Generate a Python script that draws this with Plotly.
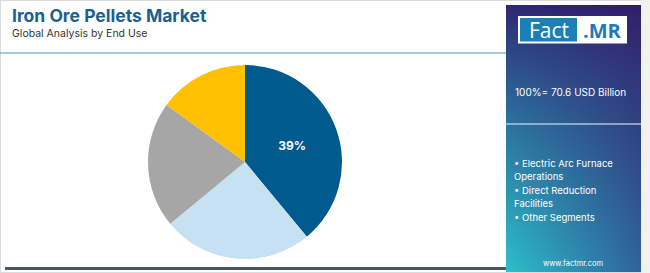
import base64, struct, zlib
import plotly.graph_objects as go

W, H = 650, 273

# ---- data ----
categories = ["Electric Arc Furnace Operations", "Direct Reduction Facilities",
              "Other Segments", "Blast Furnace Operations"]
shares = [39, 25, 21, 15]
slice_text = ["39%", "", "", ""]
colors = ["#005a8e", "#c5e1f2", "#a6a6a6", "#ffc000"]
title = "Iron Ore Pellets Market"
subtitle = "Global Analysis by End Use"
total_label = "100%= 70.6 USD Billion"
legend_lines = ["• Electric Arc Furnace", "Operations", "• Direct Reduction",
                "Facilities", "• Other Segments"]


def px(x):
    return x / W


def py(y):
    return 1 - y / H


# ---- gradient panel image (PNG data URI) ----
def gradient_png(w, h):
    TL, TR = (46, 38, 114), (50, 30, 104)
    BL, BR = (44, 192, 202), (48, 100, 156)

    def lerp(a, b, f):
        return tuple(a[k] + (b[k] - a[k]) * f for k in range(3))

    raw = bytearray()
    for y in range(h):
        raw.append(0)
        fy = (y / (h - 1)) ** 0.85
        for x in range(w):
            fx = x / (w - 1)
            top = lerp(TL, TR, fx)
            bot = lerp(BL, BR, fx)
            c = lerp(top, bot, fy)
            raw.extend(int(v) for v in c)

    def chunk(tag, data):
        c = struct.pack(">I", len(data)) + tag + data
        return c + struct.pack(">I", zlib.crc32(tag + data) & 0xFFFFFFFF)

    png = b"\x89PNG\r\n\x1a\n"
    png += chunk(b"IHDR", struct.pack(">IIBBBBB", w, h, 8, 2, 0, 0, 0))
    png += chunk(b"IDAT", zlib.compress(bytes(raw), 9))
    png += chunk(b"IEND", b"")
    return "data:image/png;base64," + base64.b64encode(png).decode()


panel_x0, panel_x1, panel_y0, panel_y1 = 506, 641, 5, 273

fig = go.Figure()

cx, cy, r = 245, 162, 97
fig.add_trace(go.Pie(
    labels=categories,
    values=shares,
    text=slice_text,
    textinfo="text",
    textposition="inside",
    insidetextfont=dict(color="white", size=12, family="Inter", weight="bold"),
    marker=dict(colors=colors, line=dict(width=0)),
    sort=False,
    direction="clockwise",
    rotation=0,
    hoverinfo="label+percent",
    showlegend=False,
    domain=dict(x=[px(cx - r), px(cx + r)], y=[py(cy + r), py(cy - r)]),
))

shapes = [
    # outer border
    dict(type="rect", xref="paper", yref="paper", x0=0, x1=1, y0=0, y1=1,
         line=dict(color="#dcdcdc", width=2), fillcolor="rgba(0,0,0,0)", layer="below"),
    # top separator line
    dict(type="line", xref="paper", yref="paper", x0=px(0), x1=px(panel_x0), y0=py(53), y1=py(53),
         line=dict(color="#5b8fbf", width=1)),
    # bottom dark line
    dict(type="line", xref="paper", yref="paper", x0=px(5), x1=px(panel_x0), y0=py(268.5), y1=py(268.5),
         line=dict(color="#4b5567", width=3)),
    # right strip grey
    dict(type="rect", xref="paper", yref="paper", x0=px(panel_x1), x1=1, y0=0, y1=1,
         line=dict(width=0), fillcolor="#f2f2f2", layer="below"),
    # separator in panel
    dict(type="line", xref="paper", yref="paper", x0=px(panel_x0), x1=px(panel_x1), y0=py(124), y1=py(124),
         line=dict(color="rgba(200,225,245,0.8)", width=1.5)),
    # logo white box
    dict(type="rect", xref="paper", yref="paper", x0=px(518), x1=px(627), y0=py(43.5), y1=py(16),
         line=dict(width=0), fillcolor="white"),
    # logo blue box
    dict(type="rect", xref="paper", yref="paper", x0=px(520), x1=px(577), y0=py(41.5), y1=py(18),
         line=dict(width=0), fillcolor="#1a80b6"),
]

images = [dict(source=gradient_png(panel_x1 - panel_x0, panel_y1 - panel_y0),
               xref="paper", yref="paper", x=px(panel_x0), y=py(panel_y0),
               sizex=px(panel_x1) - px(panel_x0), sizey=py(panel_y0) - py(panel_y1),
               xanchor="left", yanchor="top", sizing="stretch", layer="below")]

annotations = [
    dict(text=title, x=px(10), y=py(15), xanchor="left", yanchor="middle",
         font=dict(size=17.5, color="#1a5f92", family="Inter", weight="bold")),
    dict(text=subtitle, x=px(10), y=py(33), xanchor="left", yanchor="middle",
         font=dict(size=10.5, color="#333333", family="Inter")),
    dict(text="Fact", x=px(548.5), y=py(30), xanchor="center", yanchor="middle",
         font=dict(size=21, color="white", family="Open Sans")),
    dict(text="<b>.MR</b>", x=px(602), y=py(30), xanchor="center", yanchor="middle",
         font=dict(size=20, color="#1f7ab8", family="Open Sans")),
    dict(text=total_label, x=px(513), y=py(92), xanchor="left", yanchor="middle",
         font=dict(size=10, color="white", family="Inter")),
    dict(text="www.factmr.com", x=px(573), y=py(263), xanchor="center", yanchor="middle",
         font=dict(size=7.5, color="white", family="Inter")),
]
for i, line in enumerate(legend_lines):
    annotations.append(dict(text=line, x=px(512), y=py(163 + 13.5 * i), xanchor="left", yanchor="middle",
                            font=dict(size=9.5, color="white", family="Inter")))
for a in annotations:
    a.update(xref="paper", yref="paper", showarrow=False)

fig.update_layout(
    width=W, height=H,
    margin=dict(l=0, r=0, t=0, b=0),
    paper_bgcolor="white", plot_bgcolor="white",
    shapes=shapes, images=images, annotations=annotations,
)

fig.write_html("out.html")
